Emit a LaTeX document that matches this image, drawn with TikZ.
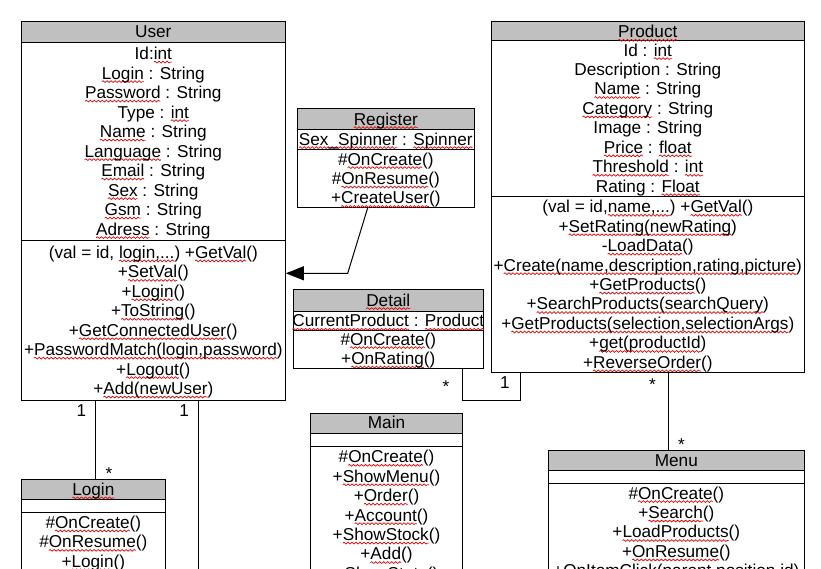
\documentclass[tikz,border=0pt]{standalone}
\usepackage{fontspec}
\setmainfont{Liberation Sans}
\usetikzlibrary{arrows.meta,fit,decorations.pathmorphing}
\definecolor{hdrgray}{RGB}{192,192,192}
\definecolor{wavered}{RGB}{230,0,0}
\newdimen\sqw
\newcommand\sq[1]{\leavevmode\setbox0=\hbox{#1}\sqw=\wd0\relax
  \rlap{\tikz[overlay,x=1pt,y=1pt]\draw[wavered,line width=0.7pt,decorate,
     decoration={snake,amplitude=0.9pt,segment length=4pt}]
     (0pt,-2.6pt) -- (\the\sqw,-2.6pt);}\box0\relax}
\tikzset{
  classbox/.style={draw, line width=1pt, inner sep=0pt},
  hdr/.style={fill=hdrgray, draw, line width=1pt},
  txt/.style={anchor=base, inner sep=0pt, font=\fontsize{17.2}{19.45}\selectfont},
  lbl/.style={anchor=base, inner sep=0pt, font=\fontsize{17.2}{19.45}\selectfont},
  conn/.style={line width=1pt},
  assoc/.style={conn, -{Triangle[length=18pt,width=14pt]}},
}
% name, x1, y1, x2, y2, header bottom
\newcommand\umlclass[6]{%
  \path (#2,#3) coordinate (#1-nw) (#4,#5) coordinate (#1-se);
  \node[classbox, fit=(#1-nw)(#1-se)] (#1) {};
  \filldraw[hdr] (#2,#3) rectangle (#4,#6);
}
\newcommand\umlsep[2]{\draw[conn] (#1.west |- 0,#2) -- (#1.east |- 0,#2);}
\newcommand\cl[4]{\node[txt] (#1-#2) at (#1.center |- 0,#3) {#4};}
\begin{document}
\begin{tikzpicture}[x=1pt,y=-1pt]
\useasboundingbox (0,0) rectangle (821,568);
\clip (0,0) rectangle (821,568);
\fill[white] (0,0) rectangle (821,568);

% ---------- User
\umlclass{user}{21.3}{21.5}{285.3}{400}{42}
\umlsep{user}{240}
\cl{user}{t}{37.7}{User}
\cl{user}{a0}{59.5}{Id:\sq{int}}
\cl{user}{a1}{59.5+1*19.5}{\sq{Login} : String}
\cl{user}{a2}{59.5+2*19.5}{\sq{Password} : String}
\cl{user}{a3}{59.5+3*19.5}{Type : \sq{int}}
\cl{user}{a4}{59.5+4*19.5}{\sq{Name} : String}
\cl{user}{a5}{59.5+5*19.5}{\sq{Language} : String}
\cl{user}{a6}{59.5+6*19.5}{\sq{Email} : String}
\cl{user}{a7}{59.5+7*19.5}{\sq{Sex} : String}
\cl{user}{a8}{59.5+8*19.5}{\sq{Gsm} : String}
\cl{user}{a9}{59.5+9*19.5}{\sq{Adress} : String}
\cl{user}{m0}{258.3}{(val = id, \sq{login,...}) +\sq{GetVal}()}
\cl{user}{m1}{258.3+1*19.45}{+\sq{SetVal}()}
\cl{user}{m2}{258.3+2*19.45}{+\sq{Login}()}
\cl{user}{m3}{258.3+3*19.45}{+\sq{ToString}()}
\cl{user}{m4}{258.3+4*19.45}{+\sq{GetConnectedUser}()}
\cl{user}{m5}{258.3+5*19.45}{+\sq{PasswordMatch(login,password})}
\cl{user}{m6}{258.3+6*19.45}{+\sq{Logout}()}
\cl{user}{m7}{258.3+7*19.45}{+\sq{Add(newUser})}

% ---------- Product
\umlclass{product}{491.3}{21.3}{804.3}{372.3}{40.3}
\umlsep{product}{196}
\cl{product}{t}{37.7}{\sq{Product}}
\cl{product}{a0}{56}{Id : \sq{int}}
\cl{product}{a1}{56+1*19.45}{Description : String}
\cl{product}{a2}{56+2*19.45}{\sq{Name} : String}
\cl{product}{a3}{56+3*19.45}{\sq{Category} : String}
\cl{product}{a4}{56+4*19.45}{Image : String}
\cl{product}{a5}{56+5*19.45}{\sq{Price} : \sq{float}}
\cl{product}{a6}{56+6*19.45}{\sq{Threshold} : \sq{int}}
\cl{product}{a7}{56+7*19.45}{Rating : \sq{Float}}
\cl{product}{m0}{212.7}{(val = id,\sq{name,...}) +\sq{GetVal}()}
\cl{product}{m1}{212.7+1*19.45}{+\sq{SetRating(newRating})}
\cl{product}{m2}{212.7+2*19.45}{-\sq{LoadData}()}
\cl{product}{m3}{212.7+3*19.45}{+\sq{Create(name,description,rating,picture})}
\cl{product}{m4}{212.7+4*19.45}{+\sq{GetProducts}()}
\cl{product}{m5}{212.7+5*19.45}{+\sq{SearchProducts(searchQuery})}
\cl{product}{m6}{212.7+6*19.45}{+\sq{GetProducts(selection,selectionArgs})}
\cl{product}{m7}{212.7+7*19.45}{+\sq{get(productId})}
\cl{product}{m8}{212.7+8*19.45}{+\sq{ReverseOrder}()}

% ---------- Register
\umlclass{register}{297.3}{108.3}{474.3}{207.3}{129.3}
\umlsep{register}{149.3}
\cl{register}{t}{125}{\sq{Register}}
\cl{register}{a0}{145}{\sq{Sex\_Spinner} : \sq{Spinner}}
\cl{register}{m0}{165}{\#\sq{OnCreate}()}
\cl{register}{m1}{165+1*19.45}{\#\sq{OnResume}()}
\cl{register}{m2}{165+2*19.45}{+\sq{CreateUser}()}

% ---------- Detail
\umlclass{detail}{293.3}{289.3}{483.3}{368.3}{311.7}
\umlsep{detail}{330.3}
\cl{detail}{t}{306}{\sq{Detail}}
\cl{detail}{a0}{326.7}{\sq{CurrentProduct} : \sq{Product}}
\cl{detail}{m0}{345}{\#\sq{OnCreate}()}
\cl{detail}{m1}{345+19.45}{+\sq{OnRating}()}

% ---------- Main
\umlclass{main}{310.3}{413.3}{462.7}{640}{433.3}
\umlsep{main}{446.3}
\cl{main}{t}{428.7}{Main}
\cl{main}{m0}{462.7}{\#\sq{OnCreate}()}
\cl{main}{m1}{462.7+1*19.45}{+\sq{ShowMenu}()}
\cl{main}{m2}{462.7+2*19.45}{+\sq{Order}()}
\cl{main}{m3}{462.7+3*19.45}{+\sq{Account}()}
\cl{main}{m4}{462.7+4*19.45}{+\sq{ShowStock}()}
\cl{main}{m5}{462.7+5*19.45}{+\sq{Add}()}
\cl{main}{m6}{462.7+6*19.45}{+\sq{ShowStats}()}

% ---------- Menu
\umlclass{menu}{548.3}{450.7}{804.3}{640}{470.3}
\umlsep{menu}{483.3}
\cl{menu}{t}{466.7}{Menu}
\cl{menu}{m0}{499}{\#\sq{OnCreate}()}
\cl{menu}{m1}{499+1*19.45}{+\sq{Search}()}
\cl{menu}{m2}{499+2*19.45}{+\sq{LoadProducts}()}
\cl{menu}{m3}{499+3*19.45}{+\sq{OnResume}()}
\cl{menu}{m4}{499+4*19.45}{+\sq{OnItemClick(parent,position,id})}

% ---------- Login
\umlclass{login}{21.3}{479.3}{165.3}{640}{499.3}
\umlsep{login}{512.3}
\cl{login}{t}{495.3}{\sq{Login}}
\cl{login}{m0}{528.3}{\#\sq{OnCreate}()}
\cl{login}{m1}{528.3+1*19.45}{\#\sq{OnResume}()}
\cl{login}{m2}{528.3+2*19.45}{+\sq{Login}()}

% ---------- connectors
\coordinate (rbend) at (347.7,273.3);
\draw[assoc] ([xshift=-18.1pt]register.south) -- (rbend) -- (user.east |- rbend);
\draw[conn] ([xshift=-57.6pt]user.south) -- ([xshift=2.4pt]login.north);
\coordinate (uend) at (198.3,640);
\draw[conn] ([xshift=45pt]user.south) -- (uend);
\draw[conn] ([xshift=74.4pt]detail.south) -- ++(0,31.7) -| ([xshift=-127.8pt]product.south);
\draw[conn] ([xshift=20.5pt]product.south) -- ([xshift=-8pt]menu.north);

% ---------- multiplicities
\node[lbl] (mu1) at (81.5,416.7) {1};
\node[lbl] (mu2) at (109,479) {*};
\node[lbl] (mu3) at (184.2,416.7) {1};
\node[lbl] (mu4) at (446,392) {*};
\node[lbl] (mu5) at (505,388.3) {1};
\node[lbl] (mu6) at (652.5,390) {*};
\node[lbl] (mu7) at (681.5,450) {*};
\end{tikzpicture}
\end{document}
